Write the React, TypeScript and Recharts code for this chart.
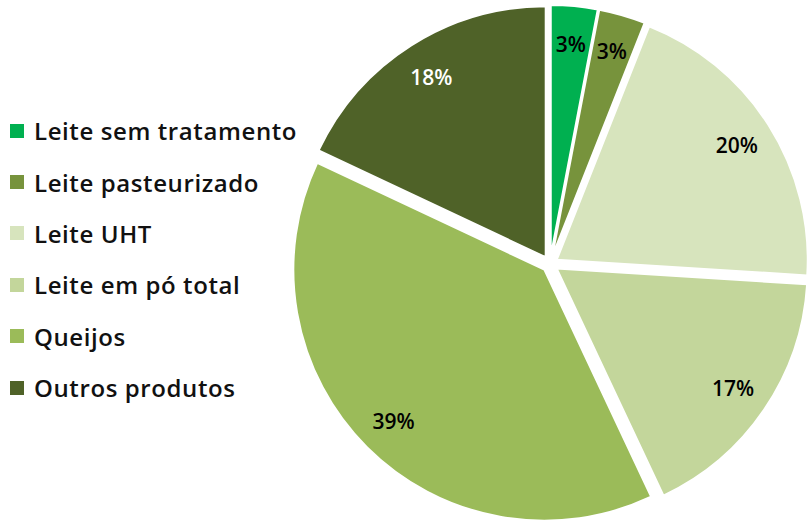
import { PieChart, Pie, Cell, Sector } from "recharts";

const categories = [
  "Leite sem tratamento",
  "Leite pasteurizado",
  "Leite UHT",
  "Leite em pó total",
  "Queijos",
  "Outros produtos",
];
const shares = [3, 3, 20, 17, 39, 18];
const colors = ["#00B050", "#77933C", "#D7E4BD", "#C3D69B", "#9BBB59", "#4F6228"];
const labelColors = ["#000", "#000", "#000", "#000", "#000", "#fff"];

const data = categories.map((name, i) => ({ name, value: shares[i] }));

const EXPLODE = 8;
const RAD = Math.PI / 180;
const FONT = "'Open Sans', Lato, sans-serif";

// every slice pulled out a little along its mid angle
function ExplodedSlice(props: any) {
  const a = -props.midAngle * RAD;
  return (
    <Sector
      {...props}
      cx={props.cx + EXPLODE * Math.cos(a)}
      cy={props.cy + EXPLODE * Math.sin(a)}
    />
  );
}

function SliceLabel(props: any) {
  const a = -props.midAngle * RAD;
  const r = props.outerRadius * 0.85 + EXPLODE;
  const x = props.cx + r * Math.cos(a);
  const y = props.cy + r * Math.sin(a);
  return (
    <text
      x={x}
      y={y}
      fill={labelColors[props.index]}
      textAnchor="middle"
      dominantBaseline="central"
      fontFamily={FONT}
      fontWeight={600}
      fontSize={21}
    >
      {`${shares[props.index]}%`}
    </text>
  );
}

export default function App() {
  return (
    <div style={{ position: "absolute", left: 0, top: 0, width: 807, height: 523 }}>
      <PieChart width={807} height={523} margin={{ top: 0, right: 0, bottom: 0, left: 0 }}>
        <Pie
          data={data}
          dataKey="value"
          nameKey="name"
          cx={550}
          cy={264}
          outerRadius={251}
          startAngle={90}
          endAngle={-270}
          stroke="#fff"
          strokeWidth={2}
          shape={ExplodedSlice}
          label={SliceLabel}
          labelLine={false}
          isAnimationActive={false}
        >
          {data.map((d, i) => (
            <Cell key={d.name} fill={colors[i]} />
          ))}
        </Pie>
      </PieChart>
      <div
        style={{
          position: "absolute",
          left: 10,
          top: 105,
          fontFamily: FONT,
          fontWeight: 600,
          fontSize: 24,
          letterSpacing: 0.6,
          color: "#111",
        }}
      >
        {categories.map((name, i) => (
          <div key={name} style={{ display: "flex", alignItems: "center", height: 51.4 }}>
            <span style={{ width: 14, height: 14, background: colors[i], marginRight: 10, display: "inline-block" }} />
            <span>{name}</span>
          </div>
        ))}
      </div>
    </div>
  );
}
